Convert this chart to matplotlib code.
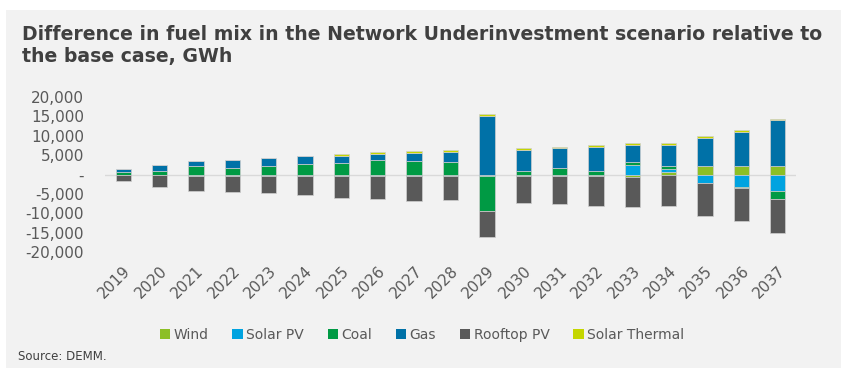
import matplotlib.pyplot as plt
import numpy as np
from matplotlib.patches import Patch, Rectangle

YEARS = [str(y) for y in range(2019, 2038)]

# GWh difference vs base case
WIND = [0, 0, 0, 0, 0, 0, 0, 0, 0, 0, 0, 0, 0, 0, -600, 600, 2150, 2150, 2150]
SOLAR_PV = [-150, -200, -300, -300, -300, -300, -300, -350, -350, -400,
            -400, -400, -400, -350, 2400, 800, -2150, -3200, -4150]
COAL = [700, 850, 2150, 1700, 2150, 2600, 3000, 3700, 3450, 3200,
        -9000, 1000, 1550, 850, 700, 700, 0, -250, -2050]
GAS = [700, 1650, 1400, 2150, 2050, 2150, 1800, 1550, 2150, 2650,
       15200, 5400, 5200, 6300, 4550, 5600, 7300, 8900, 11800]
ROOFTOP_PV = [-1500, -2900, -3900, -4200, -4550, -5000, -5700, -5950, -6400, -6300,
              -6800, -7000, -7300, -7700, -7900, -8250, -8450, -8600, -8900]
SOLAR_THERMAL = [0, 0, 0, 0, 0, 0, 500, 500, 400, 350,
                 450, 400, 400, 450, 450, 450, 450, 450, 500]

SERIES = [
    ("Wind", WIND, "#8cbf26"),
    ("Solar PV", SOLAR_PV, "#00a3e0"),
    ("Coal", COAL, "#009a44"),
    ("Gas", GAS, "#0071a7"),
    ("Rooftop PV", ROOFTOP_PV, "#595959"),
    ("Solar Thermal", SOLAR_THERMAL, "#c4d600"),
]

YTICKS = [20000, 15000, 10000, 5000, 0, -5000, -10000, -15000, -20000]
YTICK_LABELS = ["20,000", "15,000", "10,000", "5,000", "-",
                "-5,000", "-10,000", "-15,000", "-20,000"]

TEXT = "#595959"
BG = "#f2f2f2"

fig = plt.figure(figsize=(8.54, 3.73), dpi=100, facecolor="white")
fig.patches.append(Rectangle((6 / 854, 1 - 368 / 373), 835 / 854, 358 / 373,
                             transform=fig.transFigure, facecolor=BG,
                             edgecolor="none", zorder=-10))

ax = fig.add_axes([105 / 854, 1 - 252 / 373, 691 / 854, 155 / 373])
ax.set_facecolor("none")

x = np.arange(len(YEARS))
pos = np.zeros(len(YEARS))
neg = np.zeros(len(YEARS))
for name, vals, color in SERIES:
    v = np.array(vals, dtype=float)
    bottom = np.where(v >= 0, pos, neg)
    ax.bar(x, v, 0.42, bottom=bottom, color=color, edgecolor="#cfcfcf",
           linewidth=0.5, zorder=3)
    pos = pos + np.where(v > 0, v, 0)
    neg = neg + np.where(v < 0, v, 0)

ax.axhline(0, color="#d9d9d9", linewidth=1.0, zorder=2)
ax.set_xlim(-0.5, len(YEARS) - 0.5)
ax.set_ylim(-20000, 20000)
ax.set_yticks(YTICKS)
ax.set_yticklabels(YTICK_LABELS)
ax.set_xticks(x)
ax.set_xticklabels(YEARS, rotation=45, ha="right", rotation_mode="anchor")
ax.tick_params(axis="both", length=0, colors=TEXT, labelsize=11)
ax.tick_params(axis="y", pad=15)
ax.tick_params(axis="x", pad=8)
for s in ax.spines.values():
    s.set_visible(False)

fig.text(22 / 854, 1 - 25 / 373,
         "Difference in fuel mix in the Network Underinvestment scenario relative to\nthe base case, GWh",
         fontsize=13.6, fontweight="bold", color="#404040", va="top", ha="left",
         linespacing=1.2)

handles = [Patch(facecolor=c, edgecolor="none", label=n) for n, _, c in SERIES]
fig.legend(handles=handles, loc="center", bbox_to_anchor=(422 / 854, 1 - 335 / 373),
           ncol=6, frameon=False, fontsize=10, handlelength=0.75, handleheight=0.75,
           handletextpad=0.25, columnspacing=1.7, labelcolor=TEXT)

fig.text(18 / 854, 1 - 357 / 373, "Source: DEMM.", fontsize=8.5, color="#404040",
         va="center", ha="left")

fig.savefig("out.png", dpi=100, facecolor="white")
